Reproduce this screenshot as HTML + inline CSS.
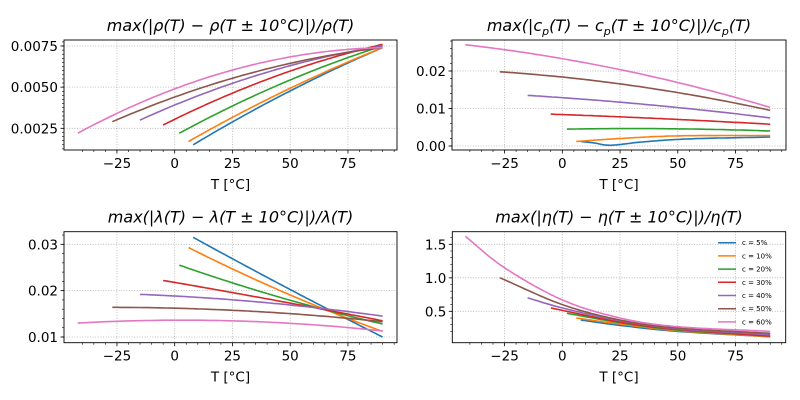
<!DOCTYPE html>
<html><head><meta charset="utf-8"><style>
html,body{margin:0;padding:0;background:#fff}
svg{display:block}
text{font-family:"DejaVu Sans","Liberation Sans",sans-serif;fill:#000}
</style></head><body>
<svg id="s" width="800" height="400" xmlns="http://www.w3.org/2000/svg"></svg>
<script>
const C=['#1f77b4','#ff7f0e','#2ca02c','#d62728','#9467bd','#8c564b','#e377c2'];
const S=document.getElementById('s');let h='';
function quad(P,n){const [a,b,c]=P;let out=[];
 for(let k=0;k<=n;k++){const x=a[0]+(c[0]-a[0])*k/n;
  const y=a[1]*(x-b[0])*(x-c[0])/((a[0]-b[0])*(a[0]-c[0]))+b[1]*(x-a[0])*(x-c[0])/((b[0]-a[0])*(b[0]-c[0]))+c[1]*(x-a[0])*(x-b[0])/((c[0]-a[0])*(c[0]-b[0]));
  out.push([x,y]);}return out;}
function cr(pts,n){
 if(pts.length==3)return quad(pts,60);
 let out=[];const P=pts;
 for(let i=0;i<P.length-1;i++){
  const p0=i>0?P[i-1]:[2*P[0][0]-P[1][0],2*P[0][1]-P[1][1]],p1=P[i],p2=P[i+1],p3=i+2<P.length?P[i+2]:[2*P[i+1][0]-P[i][0],2*P[i+1][1]-P[i][1]];
  for(let k=0;k<n;k++){const t=k/n,t2=t*t,t3=t2*t;
   const f=(a,b,c,d)=>0.5*((2*b)+(-a+c)*t+(2*a-5*b+4*c-d)*t2+(-a+3*b-3*c+d)*t3);
   out.push([f(p0[0],p1[0],p2[0],p3[0]),f(p0[1],p1[1],p2[1],p3[1])]);}
 }
 out.push(P[P.length-1]);return out;}
function plot(o){
 const {x0,x1,y0,y1,xz,xs,yv,yp,title,series,ymin,ymax,yminor}=o;
 const X=t=>xz+t*xs;const ys=(yp[1]-yp[0])/(yv[1]-yv[0]);const Y=v=>yp[0]+(v-yv[0])*ys;
 for(const t of [-25,0,25,50,75]){const x=X(t);h+=`<line x1="${x}" y1="${y0}" x2="${x}" y2="${y1}" stroke="#b0b0b0" stroke-width="0.8" stroke-dasharray="1,1.6"/>`;}
 for(const v of o.yt){const y=Y(v[0]);h+=`<line x1="${x0}" y1="${y}" x2="${x1}" y2="${y}" stroke="#b0b0b0" stroke-width="0.8" stroke-dasharray="1,1.6"/>`;}
 series.forEach((p,i)=>{const pts=cr(p,20).map(q=>X(q[0]).toFixed(1)+','+Y(q[1]).toFixed(1)).join(' ');
  h+=`<polyline points="${pts}" fill="none" stroke="${C[i]}" stroke-width="1.6"/>`;});
 h+=`<rect x="${x0}" y="${y0}" width="${x1-x0}" height="${y1-y0}" fill="none" stroke="#000" stroke-width="0.9"/>`;
 for(let t=-40;t<=95;t+=5){const x=X(t);if(x<x0||x>x1)continue;const maj=t%25==0;
  h+=`<line x1="${x}" y1="${y1}" x2="${x}" y2="${y1+(maj?3.5:2)}" stroke="#000" stroke-width="${maj?0.8:0.6}"/>`;
  if(maj)h+=`<text x="${x}" y="${y1+18}" font-size="13.5" text-anchor="middle">${t<0?'\u2212'+(-t):t}</text>`;}
 for(const v of o.yt){const y=Y(v[0]);h+=`<line x1="${x0}" y1="${y}" x2="${x0-3.5}" y2="${y}" stroke="#000" stroke-width="0.8"/><text x="${x0-6}" y="${y+5}" font-size="13.5" text-anchor="end">${v[1]}</text>`;}
 for(let v=yminor[0];v<=ymax;v+=yminor[1]){const y=Y(v);if(y<y0||y>y1)continue;h+=`<line x1="${x0}" y1="${y}" x2="${x0-2}" y2="${y}" stroke="#000" stroke-width="0.6"/>`;}
 h+=`<text x="${(x0+x1)/2}" y="${y1+39}" font-size="13.5" text-anchor="middle">T [°C]</text>`;
 h+=`<text x="${(x0+x1)/2}" y="${y0-9}" font-size="16" font-style="italic" text-anchor="middle">${title}</text>`;
}
plot({x0:64,x1:397,y0:40,y1:150,xz:174.7,xs:2.31,yv:[0.0025,0.0075],yp:[128.3,46],
 yt:[[0.0025,'0.0025'],[0.005,'0.0050'],[0.0075,'0.0075']],ymax:0.009,yminor:[0.0010,0.00025],
 title:'max(|ρ(T) − ρ(T ± 10°C)|)/ρ(T)',
 series:[[[8,0.0015],[49,0.0047],[90,0.0074]],[[6,0.0017],[48,0.0048],[90,0.0074]],[[2,0.0022],[46,0.0052],[90,0.0075]],
 [[-5,0.0027],[42.5,0.0056],[90,0.0076]],[[-15,0.0030],[37.5,0.0058],[90,0.0075]],[[-27,0.0029],[31.5,0.0058],[90,0.0074]],[[-42,0.0022],[24,0.0060],[90,0.0074]]]});
plot({x0:452,x1:786,y0:40,y1:150,xz:562.3,xs:2.31,yv:[0,0.02],yp:[146,71],
 yt:[[0,'0.00'],[0.01,'0.01'],[0.02,'0.02']],ymax:0.03,yminor:[0,0.002],
 title:'max(|c<tspan font-size="11" dy="4">p</tspan><tspan dy="-4">(T) − c</tspan><tspan font-size="11" dy="4">p</tspan><tspan dy="-4">(T ± 10°C)|)/c</tspan><tspan font-size="11" dy="4">p</tspan><tspan dy="-4">(T)</tspan>',
 series:[[[8,0.0012],[14,0.0008],[21,0.0002],[35,0.0011],[55,0.0019],[90,0.0024]],[[6,0.0012],[25,0.0020],[50,0.0027],[90,0.0028]],[[2,0.0045],[46,0.0046],[90,0.0040]],
 [[-5,0.0085],[42.5,0.0073],[90,0.0058]],[[-15,0.0135],[37.5,0.0110],[90,0.0075]],[[-27,0.0198],[31.5,0.0160],[90,0.0095]],[[-42,0.0270],[24,0.0205],[90,0.0103]]]});
plot({x0:64,x1:397,y0:231.7,y1:342.7,xz:174.7,xs:2.31,yv:[0.01,0.03],yp:[337,244.3],
 yt:[[0.01,'0.01'],[0.02,'0.02'],[0.03,'0.03']],ymax:0.035,yminor:[0.008,0.002],
 title:'max(|λ(T) − λ(T ± 10°C)|)/λ(T)',
 series:[[[8,0.0315],[49,0.0205],[90,0.0100]],[[6,0.0293],[48,0.0195],[90,0.0112]],[[2,0.0255],[46,0.0185],[90,0.0128]],
 [[-5,0.0222],[42.5,0.0180],[90,0.0135]],[[-15,0.0192],[37.5,0.0175],[90,0.0145]],[[-27,0.0164],[31.5,0.0156],[90,0.0133]],[[-42,0.0130],[24,0.0135],[90,0.0113]]]});
plot({x0:452.3,x1:785.7,y0:231.7,y1:342.7,xz:562.3,xs:2.31,yv:[0.5,1.5],yp:[311.3,244.3],
 yt:[[0.5,'0.5'],[1.0,'1.0'],[1.5,'1.5']],ymax:1.8,yminor:[0.2,0.1],
 title:'max(|η(T) − η(T ± 10°C)|)/η(T)',
 series:[[[8,0.37],[25,0.29],[50,0.20],[90,0.12]],[[6,0.40],[25,0.31],[50,0.21],[90,0.12]],[[2,0.47],[25,0.33],[50,0.22],[90,0.13]],
 [[-5,0.55],[25,0.34],[50,0.23],[90,0.13]],[[-15,0.70],[0,0.55],[25,0.36],[50,0.24],[90,0.15]],[[-27,1.0],[0,0.6],[25,0.37],[50,0.25],[90,0.17]],
 [[-42,1.62],[-25,1.15],[0,0.67],[25,0.40],[50,0.27],[90,0.20]]]});
['5%','10%','20%','30%','40%','50%','60%'].forEach((l,i)=>{const y=242.7+i*13.2;
 h+=`<line x1="718" y1="${y}" x2="736" y2="${y}" stroke="${C[i]}" stroke-width="1.5"/><text x="742" y="${y+2.5}" font-size="7">c = ${l}</text>`;});
S.innerHTML=h;
</script>
</body></html>
